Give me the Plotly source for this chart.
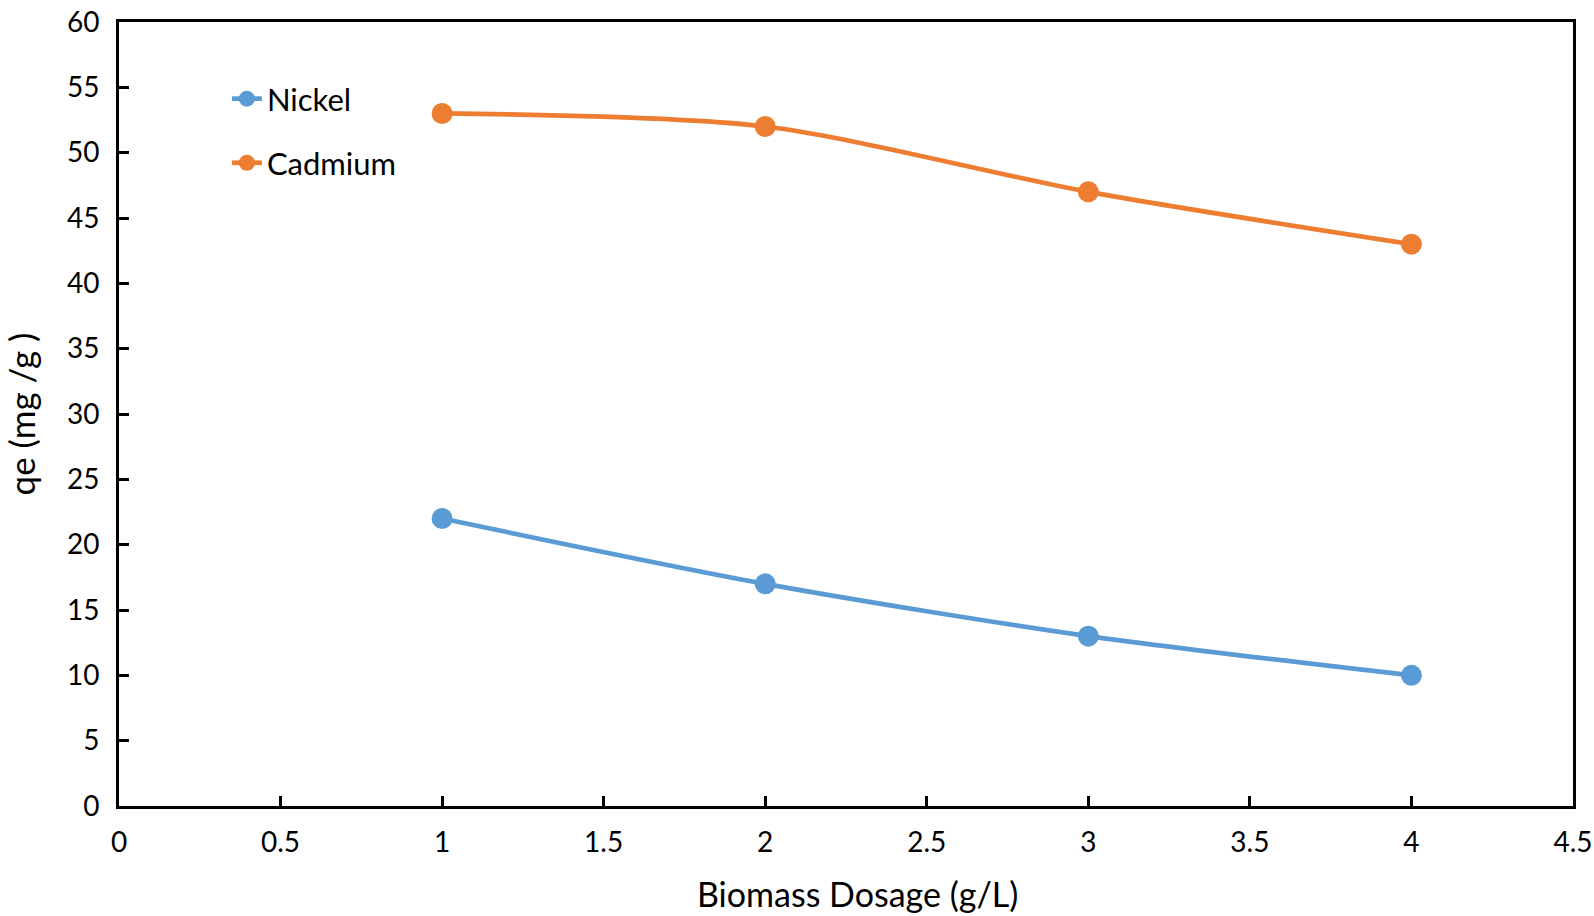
import plotly.graph_objects as go

dosage = [1, 2, 3, 4]
nickel = [22, 17, 13, 10]
cadmium = [53, 52, 47, 43]
x_ticks = [0, 0.5, 1, 1.5, 2, 2.5, 3, 3.5, 4, 4.5]
x_tick_text = ["0", "0.5", "1", "1.5", "2", "2.5", "3", "3.5", "4", "4.5"]
y_ticks = list(range(0, 65, 5))
x_title = "Biomass Dosage (g/L)"
y_title = "qe (mg /g )"

FONT = "Lato"
FS_TICK = 28
FS_TITLE = 35
FS_LEGEND = 31
BLUE = "#5B9BD5"
ORANGE = "#ED7D31"

fig = go.Figure()
fig.add_trace(go.Scatter(x=dosage, y=nickel, name="Nickel", mode="lines+markers",
                         line=dict(color=BLUE, width=4.7, shape="spline", smoothing=0.8),
                         marker=dict(color=BLUE, size=21), legend="legend", showlegend=True))
fig.add_trace(go.Scatter(x=dosage, y=cadmium, name="Cadmium", mode="lines+markers",
                         line=dict(color=ORANGE, width=4.7, shape="spline", smoothing=0.8),
                         marker=dict(color=ORANGE, size=21), legend="legend2", showlegend=True))

axis_common = dict(showline=True, linecolor="black", linewidth=3, mirror=True,
                   ticks="inside", ticklen=10, tickwidth=3, tickcolor="black",
                   showgrid=False, zeroline=False, automargin=False,
                   tickfont=dict(family=FONT, size=FS_TICK, color="black"))

fig.update_layout(
    width=1594, height=916,
    margin=dict(l=119, r=21, t=22, b=110),
    paper_bgcolor="white", plot_bgcolor="white",
    showlegend=True,
    font=dict(family=FONT, size=FS_LEGEND, color="black"),
    xaxis=dict(range=[0, 4.5], tickvals=x_ticks, ticktext=x_tick_text, ticklabelstandoff=9,
               **axis_common),
    yaxis=dict(range=[0, 60], tickvals=y_ticks, ticklabelstandoff=11,
               title=dict(text=y_title, font=dict(family=FONT, size=FS_TITLE), standoff=36),
               **axis_common),
    legend=dict(x=0.0742, y=0.9018, xanchor="left", yanchor="middle", bgcolor="rgba(0,0,0,0)",
                font=dict(family=FONT, size=FS_LEGEND), visible=True),
    legend2=dict(x=0.0742, y=0.820, xanchor="left", yanchor="middle", bgcolor="rgba(0,0,0,0)",
                 font=dict(family=FONT, size=FS_LEGEND), visible=True),
    annotations=[dict(text=x_title, xref="paper", yref="paper", x=0.508, y=-0.111,
                      xanchor="center", yanchor="middle", showarrow=False,
                      font=dict(family=FONT, size=34, color="black"))],
)

fig.write_html("out.html", config={"displayModeBar": False},
               post_script="document.body.style.margin='0';document.body.style.overflow='hidden';")
